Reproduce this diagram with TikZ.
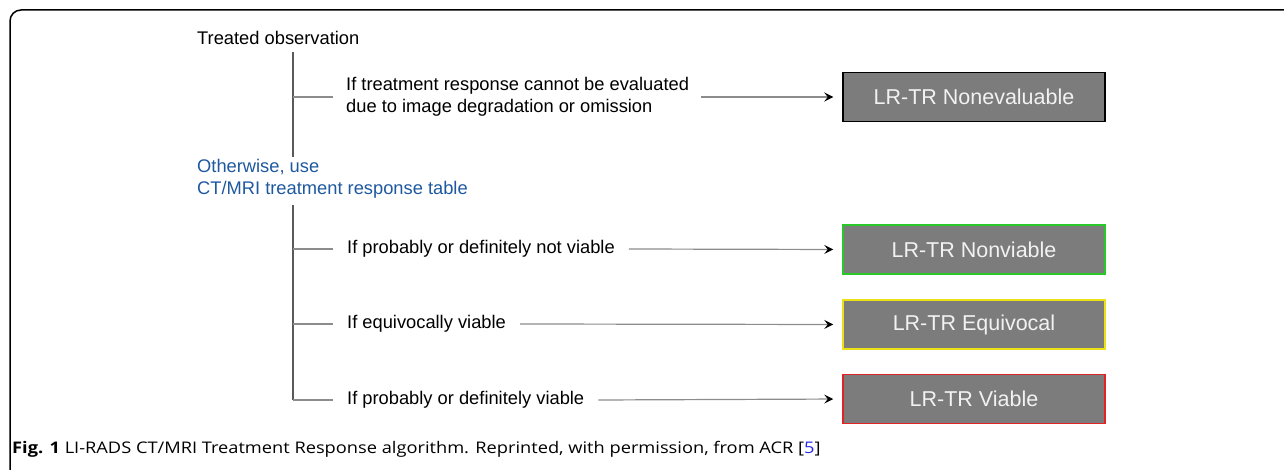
\documentclass[tikz,border=0pt]{standalone}
\usepackage{fontspec}
\setmainfont{Liberation Sans}
\newfontfamily\capfont[FakeStretch=1.14]{Open Sans}
\usetikzlibrary{arrows.meta}
\definecolor{boxgray}{RGB}{124,124,124}
\definecolor{boxtext}{RGB}{242,242,242}
\definecolor{otherblue}{RGB}{30,88,158}
\definecolor{lgreen}{RGB}{40,200,40}
\definecolor{lyellow}{RGB}{235,225,20}
\definecolor{lred}{RGB}{225,35,35}
\definecolor{refblue}{RGB}{40,40,230}
\tikzset{
  lbl/.style={inner sep=0pt, anchor=west, font=\fontsize{18.3}{22}\selectfont, align=left},
  outbox/.style={fill=boxgray, line width=1.5pt, minimum width=262pt, minimum height=49pt, inner sep=0pt, text=boxtext, font=\fontsize{21.5}{24}\selectfont},
  trunk/.style={draw=black!65, line width=1.3pt},
  branch/.style={draw=black!45, line width=1.2pt},
  arr/.style={draw=black!45, line width=1.2pt, -{Stealth[length=9pt,width=9pt,inset=3.5pt,black]}, shorten >=9pt},
}
\begin{document}
\begin{tikzpicture}[x=1pt,y=-1pt]
\useasboundingbox (0,0) rectangle (1284,470);
% frame
\draw[line width=1.5pt, rounded corners=11pt] (10,470) -- (10,10) -- (1284,10);

% top part
\node[lbl] (treated) at (197,38) {Treated observation};
\coordinate (t1top) at (293,52);
\coordinate (t1bot) at (293,157);
\draw[trunk] (t1top) -- (t1bot);

\node[lbl] (c0) at (346,97) {If treatment response cannot be evaluated\\due to image degradation or omission};
\node[outbox, draw=black] (b0) at (974,97) {LR-TR Nonevaluable};
\coordinate (j0) at (293,97);
\draw[branch] (j0) -- ([xshift=-13pt]c0.west);
\draw[arr] ([xshift=12pt]c0.east) -- (b0.west);

\node[lbl, text=otherblue] (other) at (197,179) {Otherwise, use\\CT/MRI treatment response table};

% lower part
\coordinate (t2top) at (293,205);
\coordinate (t2bot) at (293,400);
\draw[trunk] (t2top) -- (t2bot);

\node[lbl] (c1) at (347,249) {If probably or definitely not viable};
\node[lbl] (c2) at (347,324) {If equivocally viable};
\node[lbl] (c3) at (347,400) {If probably or definitely viable};

\node[outbox, draw=lgreen] (b1) at (974,249.5) {LR-TR Nonviable};
\node[outbox, draw=lyellow] (b2) at (974,324.5) {LR-TR Equivocal};
\node[outbox, draw=lred] (b3) at (974,399) {LR-TR Viable};

\draw[branch] (293,249) -- ([xshift=-14pt]c1.west);
\draw[branch] (293,324) -- ([xshift=-14pt]c2.west);
\draw[branch] (t2bot) -- ([xshift=-14pt]c3.west);

\draw[arr] ([xshift=14pt]c1.east) -- (b1.west);
\draw[arr] ([xshift=14pt]c2.east) -- (b2.west);
\draw[arr] ([xshift=14pt]c3.east) -- (b3.west);

% caption
\node[inner sep=0pt, anchor=west, font=\capfont\fontsize{16}{18}\selectfont] (cap) at (12,449) {\textbf{Fig. 1} LI-RADS CT/MRI Treatment Response algorithm. Reprinted, with permission, from ACR [\textcolor{refblue}{5}]};
\end{tikzpicture}
\end{document}
